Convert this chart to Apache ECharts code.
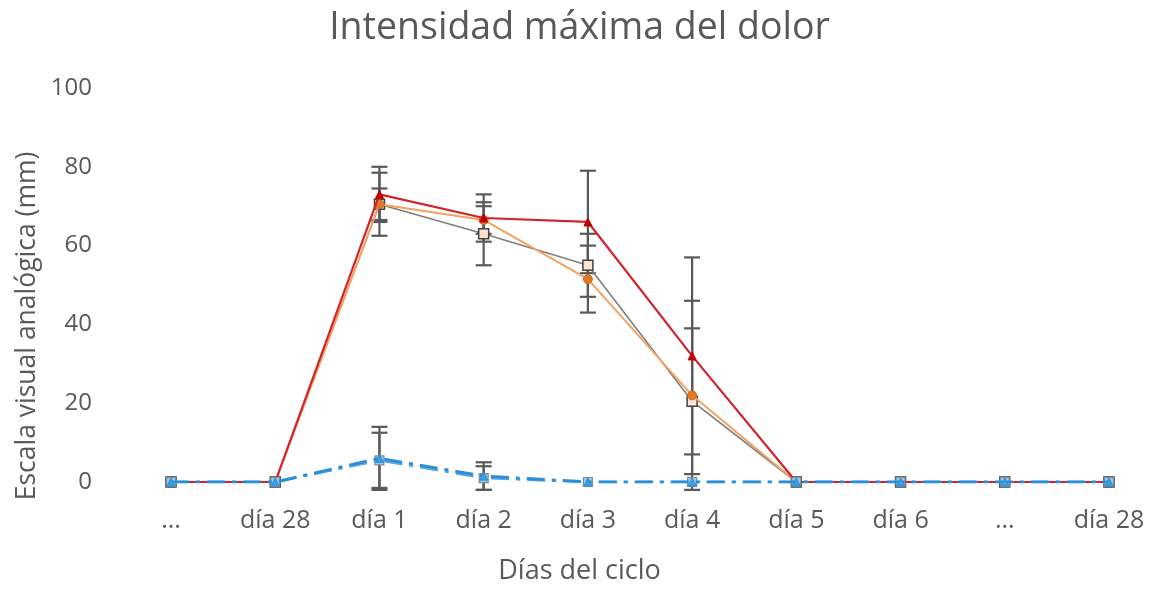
<!DOCTYPE html>
<html>
<head>
<meta charset="utf-8">
<title>Intensidad máxima del dolor</title>
<script src="https://cdn.jsdelivr.net/npm/echarts@6/dist/echarts.min.js"></script>
<style>
  html, body { margin: 0; padding: 0; background: #ffffff; }
  #chart { width: 1159px; height: 592px; }
</style>
</head>
<body>
<div id="chart"></div>
<script>
// Días del ciclo (eje X)
const categories = ['...', 'día 28', 'día 1', 'día 2', 'día 3', 'día 4', 'día 5', 'día 6', '...', 'día 28'];
const yTicks = [0, 20, 40, 60, 80, 100];

// Medias de intensidad máxima (mm, EVA) y su error
const rojo = [0, 0, 73, 67, 66, 32, 0, 0, 0, 0];
const rojoErr = [0, 0, 7, 6, 13, 25, 0, 0, 0, 0];
const naranja = [0, 0, 70.5, 66.5, 51.5, 22, 0, 0, 0, 0];
const naranjaErr = [0, 0, 8, 3.5, 8.5, 24, 0, 0, 0, 0];
const gris = [0, 0, 70.5, 63, 55, 20.5, 0, 0, 0, 0];
const grisErr = [0, 0, 4, 8, 8, 18.5, 0, 0, 0, 0];
const azul = [0, 0, 6, 1.5, 0, 0, 0, 0, 0, 0];
const azulErr = [0, 0, 8, 3.5, 0, 0, 0, 0, 0, 0];
const azulClaro = [0, 0, 5.5, 1, 0, 0, 0, 0, 0, 0];
const azulClaroErr = [0, 0, 7, 3, 0, 0, 0, 0, 0, 0];

const FONT = 'Open Sans';
const TXT = '#595959';

// Barras de error verticales con remates, dibujadas con las escalas del gráfico
function errorSeries(values, errors, z) {
  const data = [];
  values.forEach((v, i) => {
    if (errors[i] > 0) data.push([i, v - errors[i], v + errors[i]]);
  });
  return {
    type: 'custom',
    silent: true,
    z: z,
    data: data,
    renderItem: function (params, api) {
      const lo = api.coord([api.value(0), api.value(1)]);
      const hi = api.coord([api.value(0), api.value(2)]);
      const half = 8;
      const style = { stroke: '#595959', lineWidth: 2.2 };
      return {
        type: 'group',
        children: [
          { type: 'line', shape: { x1: lo[0], y1: lo[1], x2: hi[0], y2: hi[1] }, style: style },
          { type: 'line', shape: { x1: lo[0] - half, y1: lo[1], x2: lo[0] + half, y2: lo[1] }, style: style },
          { type: 'line', shape: { x1: hi[0] - half, y1: hi[1], x2: hi[0] + half, y2: hi[1] }, style: style }
        ]
      };
    },
    encode: { x: 0, y: [1, 2] }
  };
}

const chart = echarts.init(document.getElementById('chart'), null, { renderer: 'canvas' });

chart.setOption({
  animation: false,
  backgroundColor: '#ffffff',
  title: {
    text: 'Intensidad máxima del dolor',
    left: 'center',
    top: 4,
    textStyle: { fontFamily: FONT, fontSize: 37.5, fontWeight: 'normal', color: TXT }
  },
  grid: { left: 171, right: 50, top: 88, bottom: 110, containLabel: false },
  xAxis: {
    type: 'category',
    data: categories,
    boundaryGap: false,
    axisLine: { show: false },
    axisTick: { show: false },
    axisLabel: { margin: 26, fontFamily: FONT, fontSize: 25, color: TXT, interval: 0 },
    splitLine: { show: false }
  },
  yAxis: {
    type: 'value',
    min: yTicks[0],
    max: yTicks[yTicks.length - 1],
    interval: yTicks[1] - yTicks[0],
    axisLine: { show: false },
    axisTick: { show: false },
    splitLine: { show: false },
    axisLabel: { margin: 79, fontFamily: FONT, fontSize: 24, color: TXT }
  },
  graphic: [
    {
      type: 'text',
      left: 'center',
      top: 558,
      style: { text: 'Días del ciclo', font: '27px "' + FONT + '"', fill: TXT }
    },
    {
      type: 'text',
      x: 27,
      y: 326,
      rotation: Math.PI / 2,
      style: {
        text: 'Escala visual analógica (mm)',
        font: '26.5px "' + FONT + '"',
        fill: TXT,
        align: 'center',
        verticalAlign: 'middle'
      }
    }
  ],
  series: [
    errorSeries(gris, grisErr, 1),
    errorSeries(naranja, naranjaErr, 1),
    errorSeries(rojo, rojoErr, 1),
    errorSeries(azul, azulErr, 1),
    errorSeries(azulClaro, azulClaroErr, 1),
    {
      name: 'gris',
      type: 'line',
      data: gris,
      z: 3,
      symbol: 'rect',
      symbolSize: 10,
      lineStyle: { color: '#7f7f7f', width: 1.6 },
      itemStyle: { color: '#fde3d3', borderColor: '#404040', borderWidth: 1.5 }
    },
    {
      name: 'naranja',
      type: 'line',
      data: naranja,
      z: 4,
      symbol: 'circle',
      symbolSize: 9,
      lineStyle: { color: '#f4a261', width: 2 },
      itemStyle: { color: '#e07a28', borderColor: '#d06a20', borderWidth: 1 }
    },
    {
      name: 'rojo',
      type: 'line',
      data: rojo,
      z: 5,
      symbol: 'triangle',
      symbolSize: 8,
      lineStyle: { color: '#d2232a', width: 2.2 },
      itemStyle: { color: '#c00000', borderColor: '#c00000', borderWidth: 1 }
    },
    {
      name: 'azulClaro',
      type: 'line',
      data: azulClaro,
      z: 6,
      symbol: 'rect',
      symbolSize: 9,
      lineStyle: { color: '#5aa9e0', width: 2.5, type: [18, 7, 4, 7] },
      itemStyle: { color: '#9cc9ea', borderColor: '#7f8c99', borderWidth: 1.2 }
    },
    {
      name: 'azul',
      type: 'line',
      data: azul,
      z: 7,
      symbol: 'triangle',
      symbolSize: 8,
      lineStyle: { color: '#2a8fd8', width: 3, type: [18, 7, 4, 7] },
      itemStyle: { color: '#3c9ee0', borderColor: '#2a8fd8', borderWidth: 1 }
    }
  ]
});
</script>
</body>
</html>
